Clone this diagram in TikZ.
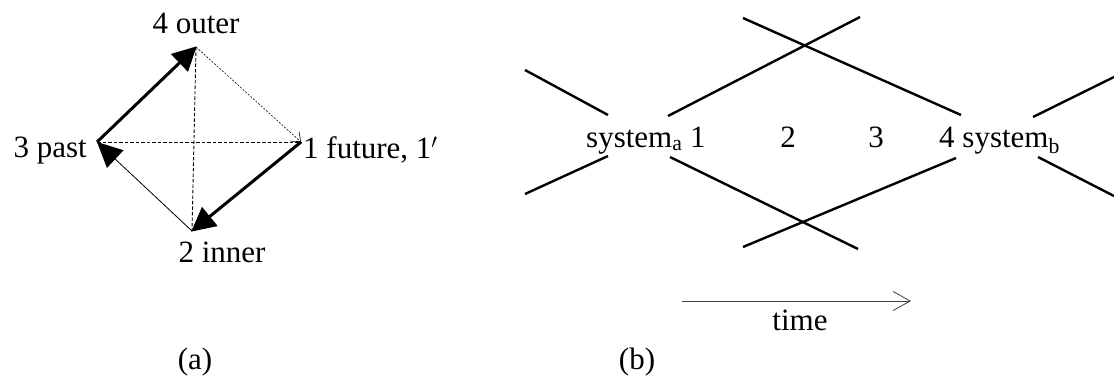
\documentclass[tikz,border=0pt]{standalone}
\usepackage{fontspec}
\setmainfont{Liberation Serif}
\usetikzlibrary{arrows.meta}
\begin{document}
\begin{tikzpicture}[x=1pt,y=-1pt,
  lbl/.style={font=\fontsize{31}{37}\selectfont, inner sep=0pt},
  bigarrow/.style={line width=3pt, -{Triangle[length=24pt,width=24pt]}, shorten >=-1pt},
  thinbig/.style={line width=0.8pt, -{Triangle[length=25pt,width=24pt]}},
  dotarrow/.style={line width=0.6pt, dash pattern=on 2pt off 1.5pt, -{Straight Barb[length=8pt,width=13pt,line width=0.6pt]}},
  dash1/.style={line width=0.9pt, dash pattern=on 3.5pt off 2pt},
  xline/.style={line width=2.4pt},
  timearrow/.style={line width=1pt, draw=black!75, -{Straight Barb[length=17pt,width=19pt,line width=0.8pt]}}]
\useasboundingbox (0,0) rectangle (1114,378);
% ---------- (a) ----------
\coordinate (v4) at (196,47);
\coordinate (v3) at (97,142);
\coordinate (v1) at (301,142);
\coordinate (v2) at (192,231);
\node[lbl, anchor=base] (l4) at (196,33) {4 outer};
\node[lbl, anchor=base east] (l3) at (87,157) {3 past};
\node[lbl, anchor=base west] (l1) at (303,158) {1 future, 1$'$};
\node[lbl, anchor=base] (l2) at (222,262) {2 inner};
\draw[dash1] (v3) -- (v1);
\draw[dash1] (v4) -- (v2);
\draw[dotarrow] (v4) -- (v1);
\draw[thinbig] (v2) -- (v3);
\draw[bigarrow] (v3) -- (v4);
\draw[bigarrow] (v1) -- (v2);
\node[lbl, anchor=base] (ca) at (195,369) {(a)};
% ---------- (b) ----------
\node[lbl, anchor=base west] (sa) at (586,147) {system\textsubscript{a} 1};
\node[lbl, anchor=base] (n2) at (788,147) {2};
\node[lbl, anchor=base] (n3) at (876,147) {3};
\node[lbl, anchor=base west] (sb) at (939,147) {4 system\textsubscript{b}};
\coordinate (a1) at (525,70);  \coordinate (a2) at (608,115);
\coordinate (a3) at (525,194); \coordinate (a4) at (608,156);
\coordinate (b1) at (668,116); \coordinate (b2) at (860,17);
\coordinate (c1) at (743,18);  \coordinate (c2) at (961,115);
\coordinate (d1) at (670,157); \coordinate (d2) at (858,249);
\coordinate (e1) at (743,247); \coordinate (e2) at (956,158);
\coordinate (f1) at (1033,117); \coordinate (f2) at (1114,77);
\coordinate (g1) at (1038,157); \coordinate (g2) at (1114,196);
\draw[xline] (a1) -- (a2);
\draw[xline] (a3) -- (a4);
\draw[xline] (b1) -- (b2);
\draw[xline] (c1) -- (c2);
\draw[xline] (d1) -- (d2);
\draw[xline] (e1) -- (e2);
\draw[xline] (f1) -- (f2);
\draw[xline] (g1) -- (g2);
\coordinate (t1) at (682,301);
\coordinate (t2) at (911,301);
\draw[timearrow] (t1) -- (t2);
\node[lbl, anchor=base] (tm) at (800,330) {time};
\node[lbl, anchor=base] (cb) at (637,369) {(b)};
\end{tikzpicture}
\end{document}
